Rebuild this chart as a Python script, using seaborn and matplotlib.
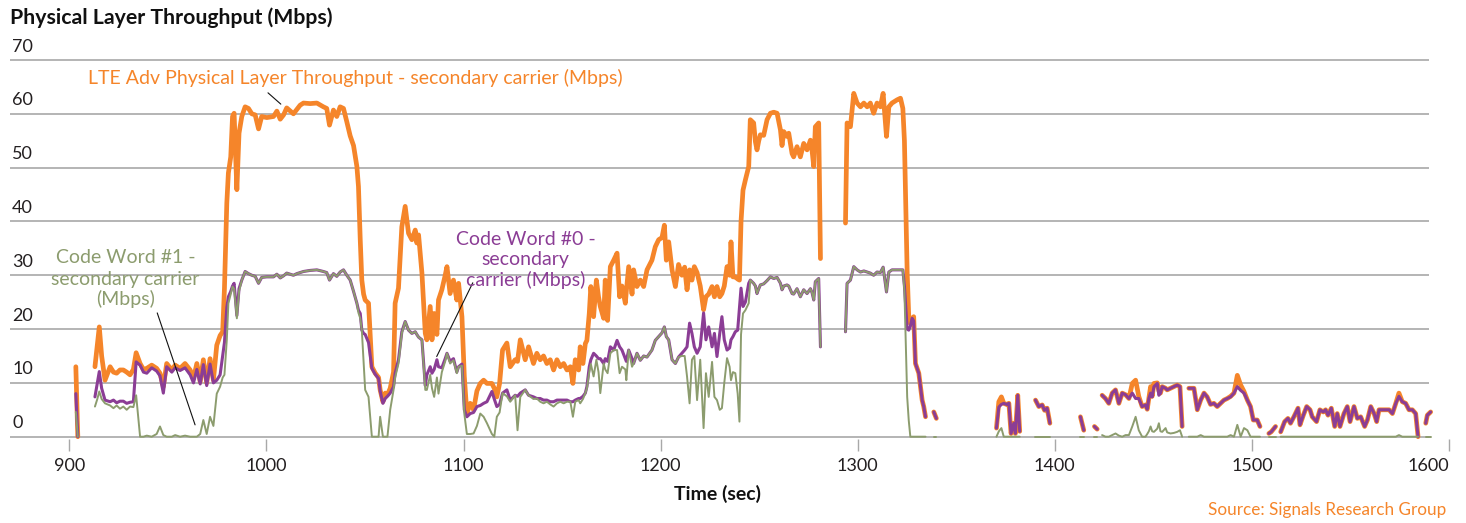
import numpy as np
import pandas as pd
import matplotlib
matplotlib.use("Agg")
import matplotlib.pyplot as plt
import matplotlib.transforms as mtransforms
import seaborn as sns

nan = np.nan

time_sec = [
    903.3, 904.3, 908.0,
    913.0, 914.2, 915.2, 916.4, 918.1, 920.7, 922.4, 924.0, 925.7, 927.4,
    929.1, 930.8, 932.5, 933.9, 935.9, 937.6, 939.3, 941.8, 944.3, 946.0,
    947.7, 949.4, 952.0, 953.7, 956.2, 958.7, 961.3, 963.0, 964.7, 966.4,
    968.0, 969.7, 971.4, 973.1, 974.8, 976.5, 977.8, 978.7, 979.9, 980.7,
    981.9, 982.8, 983.6, 985.0, 986.1, 987.5, 989.2, 990.9, 992.6, 994.3,
    996.0, 997.6, 1000.2, 1003.6, 1005.3, 1007.0, 1008.7, 1010.3, 1013.7, 1015.4,
    1017.1, 1018.8, 1022.2, 1025.6, 1028.9, 1030.6, 1032.0, 1034.0, 1035.7, 1037.4,
    1039.1, 1040.8, 1042.5, 1044.2, 1045.9, 1046.7, 1047.6, 1048.4, 1049.3, 1050.1,
    1051.8, 1053.5, 1055.2, 1056.9, 1057.7, 1059.1, 1060.3, 1061.4, 1062.8, 1064.5,
    1065.3, 1067.0, 1068.7, 1070.4, 1072.1, 1073.8, 1075.5, 1076.3, 1077.2, 1078.9,
    1080.6, 1081.4, 1083.1, 1084.0, 1085.1, 1086.5, 1087.3, 1089.0, 1090.7, 1091.6,
    1093.2, 1094.9, 1096.6, 1097.5, 1099.2, 1100.4, 1101.7, 1103.4, 1105.1, 1106.8,
    1108.5, 1110.2, 1111.9, 1114.4, 1115.6, 1116.9, 1118.3, 1119.8, 1122.0, 1123.7,
    1126.2, 1127.4, 1128.8, 1131.3, 1133.0, 1135.5, 1137.2, 1138.9, 1140.6, 1142.3,
    1144.0, 1145.7, 1147.4, 1149.1, 1150.8, 1152.5, 1154.2, 1155.5, 1156.7, 1158.4,
    1159.2, 1160.6, 1161.8, 1162.6, 1163.8, 1164.6, 1166.0, 1167.4, 1168.5, 1169.4,
    1171.1, 1171.9, 1173.1, 1174.5, 1176.2, 1177.9, 1179.2, 1180.4, 1182.1, 1182.6,
    1183.8, 1185.5, 1186.3, 1188.0, 1189.7, 1191.4, 1193.1, 1195.6, 1197.3, 1199.0,
    1200.7, 1201.9, 1202.9, 1204.1, 1205.8, 1207.5, 1209.1, 1210.8, 1212.2, 1213.4,
    1214.7, 1215.9, 1217.1, 1218.5, 1220.1, 1221.8, 1223.0, 1224.4, 1226.1, 1227.3,
    1228.6, 1230.0, 1231.1, 1232.3, 1233.7, 1235.0, 1235.7, 1236.7, 1237.9, 1239.1,
    1240.0, 1240.8, 1241.8, 1243.0, 1244.7, 1245.5, 1247.2, 1248.1, 1248.9, 1249.8,
    1250.6, 1252.3, 1254.0, 1255.7, 1257.4, 1259.1, 1260.8, 1261.6, 1262.5, 1264.1,
    1265.0, 1266.7, 1267.5, 1269.2, 1270.9, 1272.6, 1274.3, 1276.0, 1276.8, 1277.7,
    1278.5, 1280.2, 1281.1, 1287.0,
    1293.8, 1294.6, 1296.3, 1298.0, 1299.7, 1301.4, 1303.1, 1304.8, 1306.4, 1308.1,
    1309.8, 1311.5, 1312.9, 1314.6, 1315.8, 1317.4, 1320.0, 1321.7, 1322.9, 1323.7,
    1325.1, 1325.9, 1326.7, 1327.6, 1328.4, 1329.3, 1331.0, 1332.7, 1333.5, 1334.4,
    1336.5, 1338.6, 1339.9, 1355.0,
    1370.4, 1371.6, 1372.9, 1374.1, 1375.5, 1376.7, 1377.8, 1379.2, 1380.0, 1381.2,
    1382.2, 1386.0, 1390.2, 1391.9, 1393.6, 1394.8, 1396.1, 1397.5, 1405.0, 1413.0,
    1414.7, 1417.0, 1420.1, 1421.5, 1423.0, 1424.0, 1425.7, 1427.4, 1429.1, 1430.8,
    1432.5, 1434.2, 1435.9, 1437.6, 1439.3, 1441.0, 1442.6, 1444.3, 1446.0, 1446.9,
    1447.7, 1448.6, 1449.4, 1450.3, 1452.0, 1452.8, 1453.6, 1454.5, 1456.2, 1457.0,
    1458.7, 1460.4, 1462.1, 1463.5, 1464.6, 1466.5, 1468.0, 1470.6, 1472.3, 1474.0,
    1475.7, 1477.3, 1479.0, 1480.7, 1482.4, 1484.1, 1485.8, 1487.5, 1489.2, 1490.9,
    1492.6, 1494.3, 1496.0, 1497.7, 1499.3, 1500.7, 1502.7, 1504.1, 1506.0, 1508.6,
    1509.8, 1512.0, 1513.2, 1514.6, 1516.6, 1518.3, 1519.6, 1521.3, 1523.4, 1524.4,
    1526.1, 1527.8, 1529.5, 1530.6, 1532.8, 1534.5, 1536.2, 1537.4, 1538.6, 1540.3,
    1542.0, 1543.3, 1544.7, 1546.7, 1548.4, 1549.8, 1551.8, 1553.5, 1555.2, 1557.2,
    1558.6, 1560.3, 1562.0, 1563.3, 1564.5, 1567.0, 1569.6, 1571.3, 1573.0, 1574.6,
    1576.3, 1578.0, 1579.7, 1581.4, 1583.1, 1584.3, 1586.0, 1588.2, 1589.0, 1590.7,
]

lte_total = [
    13.0, 0.0, nan,
    13.0, 17.0, 20.4, 15.0, 10.5, 13.0, 12.0, 11.8, 12.4, 12.4,
    12.0, 11.5, 12.5, 15.6, 13.6, 12.5, 12.7, 13.3, 12.7, 11.8,
    9.3, 13.6, 12.4, 13.3, 12.7, 13.6, 12.4, 10.8, 13.6, 10.2,
    14.3, 10.0, 14.5, 10.5, 17.0, 18.8, 19.5, 27.5, 43.4, 49.0,
    52.0, 59.5, 60.1, 45.9, 56.4, 59.5, 61.3, 61.0, 60.0, 59.8,
    57.2, 59.5, 59.3, 59.5, 60.5, 59.0, 59.8, 61.1, 60.0, 60.8,
    61.6, 62.0, 61.9, 62.0, 61.3, 61.0, 57.9, 60.7, 59.5, 61.3,
    61.0, 58.5, 55.9, 54.1, 50.2, 46.5, 36.6, 29.1, 26.5, 25.4,
    24.8, 13.0, 11.8, 11.0, 8.7, 6.5, 8.1, 7.8, 9.0, 12.0,
    24.8, 27.6, 39.0, 42.8, 37.8, 36.6, 38.4, 36.0, 37.5, 30.4,
    19.2, 18.0, 24.2, 18.0, 22.9, 19.0, 25.4, 27.3, 30.0, 31.6,
    26.6, 29.1, 25.4, 28.5, 22.3, 11.2, 4.3, 6.2, 5.0, 8.5,
    9.9, 10.5, 9.9, 9.9, 9.0, 7.4, 9.9, 16.1, 17.4, 13.0,
    14.3, 14.0, 18.0, 14.3, 16.7, 13.6, 15.5, 14.3, 15.0, 13.6,
    14.3, 12.4, 14.3, 13.0, 13.6, 12.4, 13.0, 9.9, 14.3, 12.4,
    16.7, 13.6, 17.3, 17.9, 22.9, 27.9, 22.3, 29.1, 26.0, 24.2,
    22.0, 29.1, 21.6, 31.6, 32.8, 34.1, 26.0, 28.0, 24.8, 27.0,
    31.6, 26.5, 31.0, 27.9, 29.1, 27.9, 31.0, 32.8, 35.3, 36.6,
    37.0, 39.3, 32.8, 36.2, 31.0, 27.9, 32.0, 30.0, 31.5, 27.3,
    31.0, 29.1, 31.6, 30.5, 28.0, 23.6, 26.0, 26.5, 27.9, 26.0,
    27.9, 26.0, 26.6, 28.0, 31.6, 30.0, 36.2, 29.7, 29.7, 29.3,
    29.1, 40.0, 45.8, 47.7, 50.2, 58.9, 58.3, 54.8, 53.3, 55.0,
    56.1, 56.0, 58.9, 60.1, 60.3, 60.1, 57.0, 54.1, 56.7, 55.8,
    56.4, 52.6, 52.0, 53.9, 52.0, 54.5, 53.3, 55.1, 53.3, 50.2,
    57.6, 58.3, 33.1, nan,
    39.7, 58.3, 57.6, 63.8, 62.0, 61.3, 62.0, 61.3, 62.0, 60.1,
    62.0, 61.3, 63.8, 55.8, 61.3, 62.0, 62.6, 62.9, 61.0, 55.0,
    30.4, 22.3, 21.0, 22.0, 22.3, 13.6, 11.8, 6.8, 5.6, 3.7,
    nan, 4.6, 3.4, nan,
    1.6, 6.5, 7.4, 6.2, 6.0, 6.2, 0.6, 2.5, 0.6, 7.7,
    1.0, nan, 6.8, 5.6, 5.9, 4.9, 5.3, 2.5, nan, 3.7,
    1.2, nan, 1.9, 1.4, nan, 7.7, 7.1, 6.2, 8.1, 8.7,
    6.2, 8.1, 7.8, 7.1, 9.9, 10.5, 7.5, 5.6, 5.9, 5.1,
    7.1, 9.3, 7.5, 9.9, 10.0, 8.5, 8.1, 9.3, 9.0, 8.7,
    9.0, 9.3, 9.6, 9.3, 1.9, nan, 9.0, 9.0, 5.0, 6.8,
    8.1, 7.4, 6.0, 6.2, 5.6, 6.2, 6.8, 7.1, 7.5, 8.1,
    11.4, 9.6, 8.4, 6.8, 5.6, 3.1, 3.1, 1.9, nan, 0.6,
    0.9, 1.9, nan, 0.9, 2.8, 3.4, 2.5, 3.7, 5.3, 2.2,
    4.0, 5.6, 5.0, 3.7, 2.8, 5.0, 4.6, 5.0, 4.0, 5.3,
    1.9, 4.3, 1.9, 4.3, 5.6, 2.8, 5.6, 3.4, 3.7, 1.9,
    3.1, 5.6, 4.3, 2.8, 5.0, 5.0, 5.0, 4.3, 6.2, 8.1,
    6.5, 6.2, 5.0, 5.0, 4.3, 0.0, nan, 2.5, 4.0, 4.6,
]

code_word0 = [
    8.0, 0.0, nan,
    7.4, 10.0, 12.1, 9.0, 6.8, 6.5, 6.8, 6.3, 6.6, 6.6,
    6.2, 6.4, 6.5, 13.9, 13.3, 12.0, 11.8, 12.8, 12.2, 11.3,
    8.1, 13.0, 12.0, 12.8, 12.3, 12.8, 11.5, 10.0, 12.5, 9.8,
    13.4, 9.5, 13.5, 10.0, 10.5, 11.5, 15.0, 17.5, 24.0, 26.0,
    27.0, 28.0, 28.5, 22.5, 27.5, 29.1, 30.7, 30.3, 30.0, 29.8,
    28.5, 29.6, 29.7, 29.7, 30.2, 29.5, 29.9, 30.4, 30.0, 30.3,
    30.5, 30.7, 30.9, 31.0, 30.7, 30.5, 29.1, 30.3, 29.8, 30.6,
    31.0, 30.0, 29.1, 27.0, 24.8, 23.5, 22.9, 19.8, 19.2, 19.0,
    17.5, 12.7, 11.6, 10.8, 8.5, 6.2, 7.1, 7.5, 8.1, 9.3,
    11.8, 14.3, 19.5, 21.4, 19.8, 19.2, 19.5, 19.0, 18.5, 18.0,
    9.5, 11.5, 13.0, 11.8, 12.5, 14.3, 13.0, 12.8, 14.5, 15.5,
    14.0, 14.5, 12.0, 13.0, 13.5, 5.0, 3.7, 4.3, 4.5, 5.6,
    5.8, 6.2, 6.5, 8.4, 7.0, 5.6, 6.0, 8.1, 8.7, 6.8,
    7.7, 7.5, 8.1, 8.7, 7.7, 7.4, 7.1, 7.1, 6.8, 6.8,
    6.5, 6.5, 6.8, 6.8, 6.8, 6.8, 6.5, 6.5, 6.8, 7.1,
    7.1, 7.5, 8.1, 9.3, 13.0, 14.3, 15.5, 15.0, 14.5, 14.5,
    13.6, 14.5, 14.0, 16.7, 16.1, 17.9, 16.7, 16.1, 14.5, 14.0,
    16.1, 14.5, 13.6, 15.5, 14.2, 15.0, 14.8, 16.1, 17.9, 18.6,
    19.3, 20.4, 18.6, 18.0, 14.3, 13.6, 14.8, 15.5, 16.1, 16.7,
    21.1, 19.2, 16.7, 15.5, 16.7, 23.0, 18.0, 20.4, 16.7, 19.2,
    14.9, 19.2, 22.3, 18.0, 16.1, 16.5, 18.0, 18.6, 19.5, 19.8,
    24.0, 27.6, 24.2, 25.0, 28.5, 29.1, 28.5, 28.0, 26.6, 27.5,
    28.2, 28.4, 29.0, 29.7, 29.4, 29.6, 28.5, 27.3, 28.0, 28.2,
    28.0, 26.6, 26.5, 27.5, 26.0, 27.3, 26.6, 27.5, 26.8, 25.4,
    28.8, 29.4, 16.7, nan,
    19.5, 28.5, 29.1, 31.6, 31.0, 30.6, 30.8, 30.6, 30.4, 30.0,
    30.6, 30.5, 31.5, 26.9, 30.6, 31.0, 31.0, 31.0, 31.0, 28.0,
    20.0, 19.8, 20.5, 22.0, 21.5, 13.6, 11.8, 6.8, 5.6, 3.7,
    nan, 4.6, 3.4, nan,
    1.6, 5.5, 6.0, 6.2, 6.0, 6.2, 0.6, 2.5, 0.6, 7.7,
    1.0, nan, 6.8, 5.6, 5.9, 4.9, 5.3, 2.5, nan, 3.7,
    1.2, nan, 1.9, 1.4, nan, 7.7, 7.1, 6.2, 8.1, 8.7,
    6.2, 8.1, 7.8, 7.1, 8.1, 7.1, 7.1, 5.6, 5.9, 5.1,
    7.1, 8.1, 7.4, 9.3, 9.9, 7.7, 8.1, 9.3, 9.0, 8.7,
    9.0, 9.3, 9.6, 9.3, 1.9, nan, 9.0, 9.0, 5.0, 6.8,
    8.1, 7.4, 6.0, 6.2, 5.6, 6.2, 6.8, 7.1, 7.4, 8.1,
    9.3, 8.6, 8.1, 6.8, 5.6, 3.1, 3.1, 1.9, nan, 0.6,
    0.9, 1.9, nan, 0.9, 2.8, 3.4, 2.5, 3.7, 5.3, 2.2,
    4.0, 5.6, 5.0, 3.7, 2.8, 5.0, 4.6, 5.0, 4.0, 5.3,
    1.9, 4.3, 1.9, 4.3, 5.6, 2.8, 5.6, 3.4, 3.7, 1.9,
    3.1, 5.6, 4.3, 2.8, 5.0, 5.0, 5.0, 4.3, 6.2, 7.5,
    6.5, 6.2, 5.0, 5.0, 4.3, 0.0, nan, 2.5, 4.0, 4.6,
]

code_word1 = [
    4.6, 0.0, nan,
    5.6, 7.0, 8.4, 7.0, 6.2, 5.8, 5.3, 5.8, 5.2, 5.6,
    5.0, 5.6, 5.5, 7.7, 0.0, 0.0, 0.2, 0.0, 0.5, 1.9,
    0.3, 0.0, 0.0, 0.3, 0.0, 0.2, 0.0, 0.0, 0.0, 0.5,
    3.1, 0.5, 3.7, 2.0, 8.0, 9.3, 11.0, 11.5, 18.0, 24.8,
    26.5, 27.9, 27.5, 22.0, 27.0, 29.1, 30.7, 30.3, 30.0, 29.8,
    28.5, 29.6, 29.7, 29.7, 30.2, 29.5, 29.9, 30.4, 30.0, 30.3,
    30.5, 30.7, 30.9, 31.0, 30.7, 30.5, 29.1, 30.3, 29.8, 30.6,
    31.0, 30.0, 29.1, 27.0, 24.8, 23.0, 22.0, 19.8, 14.0, 8.7,
    7.4, 0.0, 0.0, 0.0, 3.7, 0.0, 0.0, 0.0, 5.0, 8.7,
    11.0, 13.6, 19.2, 21.4, 19.8, 19.2, 19.5, 19.0, 18.5, 18.0,
    8.7, 8.7, 11.5, 9.0, 7.4, 11.0, 8.0, 12.0, 14.0, 15.5,
    13.6, 14.2, 11.8, 13.0, 13.2, 4.3, 0.5, 0.5, 0.6, 2.0,
    4.3, 3.7, 2.5, 0.5, 0.0, 3.7, 4.5, 8.1, 7.5, 6.5,
    7.7, 1.2, 7.4, 8.7, 7.7, 7.0, 7.1, 6.5, 6.2, 6.5,
    6.0, 5.6, 6.2, 6.5, 6.2, 6.5, 6.5, 3.7, 6.5, 6.8,
    6.2, 7.0, 8.1, 9.0, 12.0, 13.5, 11.2, 14.3, 12.0, 8.1,
    13.6, 12.5, 11.8, 15.5, 16.1, 16.1, 11.8, 13.0, 12.5, 10.5,
    16.1, 13.0, 13.6, 15.5, 14.2, 15.0, 14.8, 16.1, 17.9, 18.6,
    19.3, 20.4, 18.6, 18.0, 14.3, 13.6, 14.8, 15.0, 15.0, 11.2,
    6.2, 14.3, 15.0, 6.8, 14.3, 1.6, 11.8, 7.4, 13.9, 7.4,
    6.8, 5.0, 5.3, 10.0, 14.6, 13.0, 10.5, 12.0, 11.8, 8.0,
    2.8, 19.0, 22.9, 23.5, 24.8, 29.1, 28.5, 28.0, 26.6, 27.5,
    28.2, 28.4, 29.0, 29.7, 29.4, 29.6, 28.5, 27.3, 28.0, 28.2,
    28.0, 26.6, 26.5, 27.5, 26.0, 27.3, 26.6, 27.5, 26.8, 25.4,
    28.8, 29.4, 16.7, nan,
    19.5, 28.5, 29.1, 31.6, 31.0, 30.6, 30.8, 30.6, 30.4, 30.0,
    30.6, 30.5, 31.5, 26.9, 30.6, 31.0, 31.0, 31.0, 31.0, 27.0,
    7.4, 3.0, 0.0, 0.0, 0.0, 0.0, 0.0, 0.0, 0.0, 0.0,
    nan, 0.0, 0.0, nan,
    0.0, 1.0, 1.6, 0.0, 0.0, 0.0, 0.0, 0.0, 0.0, 0.0,
    0.0, nan, 0.0, 0.0, 0.0, 0.0, 0.0, 0.0, nan, 0.0,
    0.0, nan, 0.0, 0.0, nan, 0.3, 0.0, 0.0, 0.3, 0.6,
    0.2, 0.0, 0.3, 0.3, 1.9, 3.7, 1.2, 0.0, 0.0, 0.5,
    1.0, 1.9, 1.0, 0.9, 1.5, 2.5, 1.0, 0.9, 1.6, 0.8,
    0.6, 0.7, 0.9, 1.2, 0.0, nan, 0.0, 0.0, 0.0, 0.3,
    0.0, 0.0, 0.0, 0.0, 0.0, 0.0, 0.0, 0.0, 0.3, 0.0,
    2.2, 0.0, 1.6, 1.2, 0.0, 0.0, 0.0, 0.0, nan, 0.0,
    0.0, 0.0, nan, 0.0, 0.0, 0.0, 0.0, 0.0, 0.0, 0.0,
    0.0, 0.0, 0.0, 0.0, 0.0, 0.0, 0.0, 0.0, 0.0, 0.0,
    0.0, 0.0, 0.0, 0.0, 0.0, 0.0, 0.0, 0.0, 0.0, 0.0,
    0.0, 0.0, 0.0, 0.0, 0.0, 0.0, 0.0, 0.0, 0.0, 0.3,
    0.0, 0.0, 0.0, 0.0, 0.0, 0.0, nan, 0.0, 0.0, 0.0,
]

x_ticks = [900, 1000, 1100, 1200, 1300, 1400, 1500, 1600]
y_ticks = [0, 10, 20, 30, 40, 50, 60, 70]

title_text = "Physical Layer Throughput (Mbps)"
x_title = "Time (sec)"
source_text = "Source: Signals Research Group"
lte_label = "LTE Adv Physical Layer Throughput - secondary carrier (Mbps)"
cw1_label = ["Code Word #1 -", "secondary carrier", "(Mbps)"]
cw0_label = ["Code Word #0 -", "secondary", "carrier (Mbps)"]

ORANGE = "#F5852A"
PURPLE = "#8B3D95"
GREEN = "#8C9C6E"
GRID = "#A8A8A8"
TXT = "#231F20"

sns.set_theme(style="white")
plt.rcParams["font.family"] = ["Lato", "DejaVu Sans"]

df = pd.DataFrame({"time": time_sec, "lte": lte_total, "cw0": code_word0, "cw1": code_word1})
df["segment"] = df["lte"].isna().cumsum()
df = df.dropna().reset_index(drop=True)

W, H = 1466, 523
fig = plt.figure(figsize=(W / 100, H / 100), dpi=100)
fig.patch.set_facecolor("white")

x_lo, x_hi = 869.9, 1600.0
y_lo, y_hi = -0.4, 70.4
ax = fig.add_axes([10 / W, 0.16090, (1449 - 10) / W, 0.72849])
ax.set_facecolor("white")

# grid lines (drawn only to the end of the data area)
ax.hlines(y_ticks, x_lo, 1590.0, colors=GRID, linewidth=1.2, zorder=0.5)

common = dict(x="time", units="segment", estimator=None, sort=False, legend=False,
              ax=ax, solid_capstyle="round", solid_joinstyle="round")
sns.lineplot(data=df, y="lte", color=ORANGE, linewidth=3.4, zorder=2, **common)
sns.lineplot(data=df, y="cw0", color=PURPLE, linewidth=2.2, zorder=3, **common)
sns.lineplot(data=df, y="cw1", color=GREEN, linewidth=1.4, zorder=4, **common)

ax.set_xlim(x_lo, x_hi)
ax.set_ylim(y_lo, y_hi)
for s in ax.spines.values():
    s.set_visible(False)

ax.set_xticks(x_ticks)
ax.set_xticklabels([str(v) for v in x_ticks])
ax.tick_params(axis="x", bottom=True, length=8.5, width=1.0, color=GRID, pad=5,
               labelsize=13, labelcolor=TXT)
ax.get_xticklabels()[-1].set_horizontalalignment("right")
ax.set_yticks([])
ax.set_xlabel("")
ax.set_ylabel("")

# y labels sit above their gridlines at the left edge
ytrans = mtransforms.offset_copy(ax.get_yaxis_transform(), fig=fig, x=0, y=13.5, units="dots")
for v in y_ticks:
    ax.text(0.0015, v, str(v), transform=ytrans, ha="left", va="center",
            fontsize=13, color=TXT)

def fy(py):
    return 1 - py / H

fig.text(10 / W, fy(24.5), title_text, ha="left", va="baseline", fontsize=15.3,
         fontweight="bold", color="#111111")
fig.text(718 / W, fy(494), x_title, ha="center", va="center", fontsize=14,
         fontweight="bold", color="#111111")
fig.text(1446 / W, fy(510), source_text, ha="right", va="center", fontsize=12.3,
         color=ORANGE)

fig.text(88 / W, fy(84.3), lte_label, ha="left", va="baseline", fontsize=14, color=ORANGE)
for line, base in zip(cw1_label, [262.7, 284.5, 305.5]):
    fig.text(125.5 / W, fy(base), line, ha="center", va="baseline", fontsize=14, color=GREEN)
for line, base in zip(cw0_label, [244.5, 265.5, 286.0]):
    fig.text(525.8 / W, fy(base), line, ha="center", va="baseline", fontsize=14, color=PURPLE)

leader = dict(arrowstyle="-", color="#111111", lw=0.8, shrinkA=0, shrinkB=0)
ax.annotate("", xy=(1007.3, 61.8), xytext=(1000.8, 63.9), arrowprops=leader)
ax.annotate("", xy=(963.8, 2.2), xytext=(944.6, 23.0), arrowprops=leader)
ax.annotate("", xy=(1086.4, 14.9), xytext=(1104.7, 28.6), arrowprops=leader)

fig.savefig("out.png", dpi=100, facecolor="white")
